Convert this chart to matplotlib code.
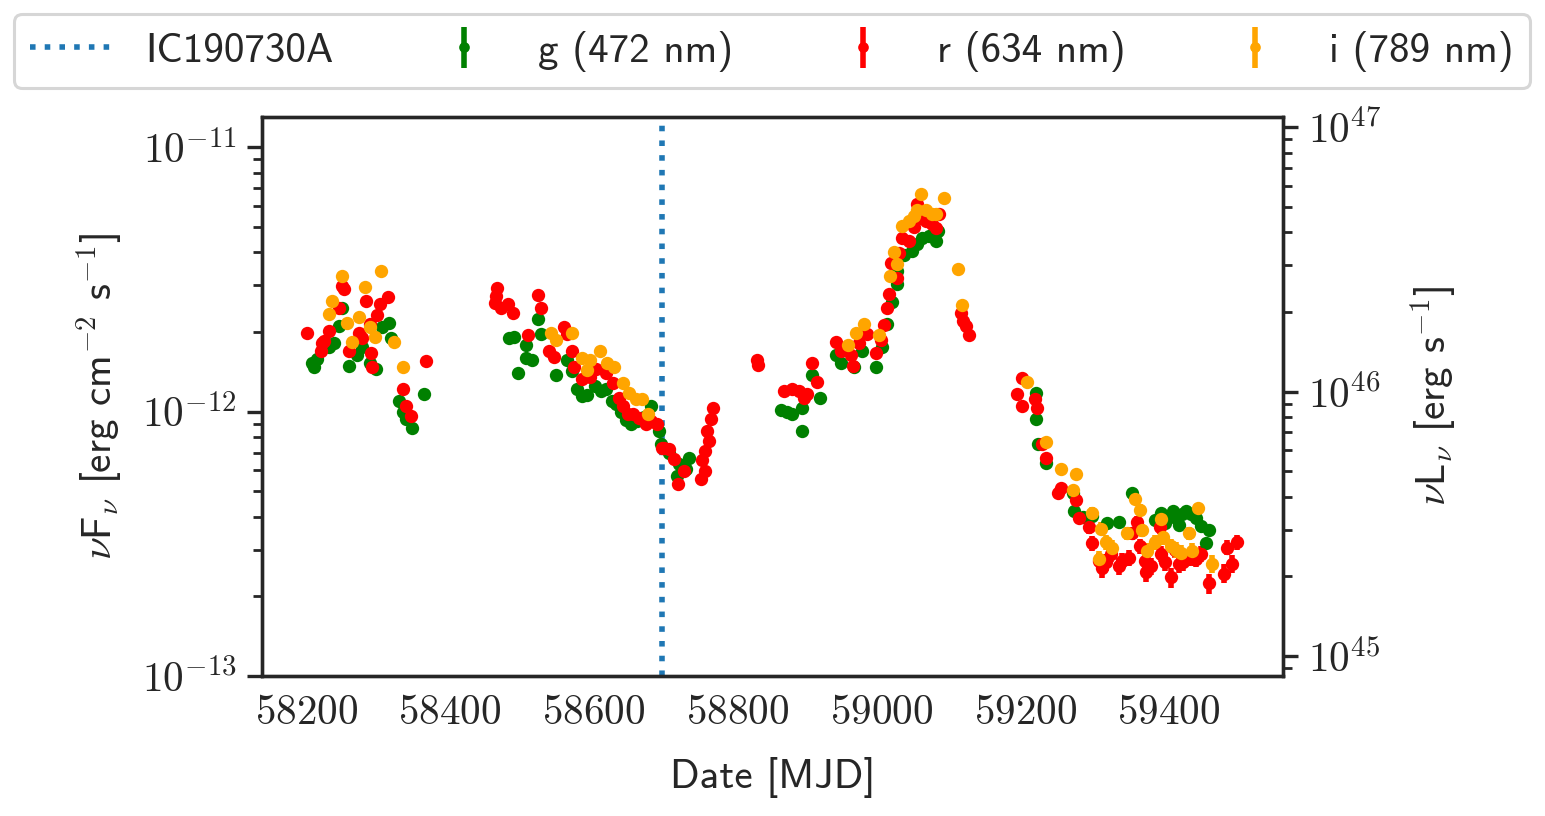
import numpy as np
import matplotlib
matplotlib.use("Agg")
import matplotlib.pyplot as plt
from matplotlib.ticker import FuncFormatter, LogLocator, FixedLocator

plt.rcParams['mathtext.fontset'] = 'cm'
plt.rcParams['font.family'] = ['cmss10', 'DejaVu Sans']
plt.rcParams['axes.unicode_minus'] = False

# ---------------- data (flux in units of 1e-12 erg cm^-2 s^-1) ----------------
neutrino_mjd = 58694.87
neutrino_label = "IC190730A"

g_mjd = [58208, 58211, 58215, 58232, 58239, 58246, 58250, 58260, 58270, 58277, 58288, 58297, 58306,
         58315, 58318, 58329, 58335, 58339, 58347, 58364,
         58482, 58489, 58495, 58506, 58506, 58514, 58523, 58527, 58548, 58562, 58570, 58576,
         58583, 58590, 58601, 58610, 58617, 58625, 58631, 58638, 58645, 58652, 58660, 58670,
         58680, 58691, 58694,
         58705, 58716, 58719, 58728, 58733,
         58861, 58868, 58875, 58889, 58890, 58904, 58914, 58937, 58944, 58962, 58973, 58993,
         59001, 59008, 59015, 59021, 59022, 59032, 59042, 59050, 59057, 59066, 59076, 59078,
         59215, 59215, 59218, 59229, 59266, 59268, 59280, 59293, 59314, 59331, 59349, 59380,
         59389, 59395, 59400, 59405, 59410, 59414, 59418, 59424, 59430, 59438, 59445, 59452,
         59456]
g_flux = [1.52, 1.47, 1.58, 1.75, 1.81, 2.11, 2.47, 1.49, 1.63, 1.75, 1.53, 1.45, 2.08,
          2.17, 1.89, 1.10, 1.00, 0.94, 0.87, 1.17,
          1.89, 1.92, 1.40, 1.78, 1.59, 1.56, 2.23, 1.97, 1.38, 1.56, 1.42, 1.22,
          1.15, 1.16, 1.25, 1.20, 1.22, 1.10, 1.07, 0.996, 0.93, 0.901, 0.92, 0.95,
          1.05, 0.847, 0.757,
          0.70, 0.573, 0.636, 0.609, 0.670,
          1.01, 1.00, 0.983, 1.035, 0.847, 1.37, 1.13, 1.63, 1.53, 1.47, 1.70, 1.47,
          1.75, 2.15, 2.60, 3.05, 3.41, 3.90, 4.06, 4.30, 4.55, 4.60, 4.43, 4.83,
          1.18, 0.941, 0.757, 0.641, 0.490, 0.422, 0.40, 0.404, 0.378, 0.381, 0.490, 0.39,
          0.412, 0.38, 0.400, 0.42, 0.397, 0.371, 0.41, 0.422, 0.410, 0.397, 0.37, 0.317,
          0.355]

r_mjd = [58201, 58221, 58222, 58224, 58232, 58246, 58250, 58252, 58260, 58274, 58277, 58283,
         58288, 58290, 58292, 58299, 58302, 58314, 58334, 58339, 58346, 58367,
         58462, 58464, 58466, 58471, 58480, 58487, 58509, 58523, 58527, 58538, 58545, 58558,
         58563, 58569, 58573, 58583, 58595, 58603, 58617, 58626, 58635, 58640, 58647, 58655,
         58663, 58673, 58680, 58688, 58695,
         58698, 58705, 58712, 58717, 58726, 58749, 58751, 58754, 58754, 58758, 58760, 58763, 58766,
         58827, 58828, 58865, 58876, 58886, 58893, 58896, 58904, 58911, 58937, 58944, 58958,
         58960, 58969, 58980, 58993, 59000, 59004, 59008, 59011, 59014, 59022, 59025, 59028,
         59039, 59045, 59050, 59053, 59062, 59070, 59076, 59080, 59111, 59114, 59118, 59122,
         59189, 59195, 59195, 59213, 59217, 59224, 59229, 59245, 59250, 59271, 59275, 59289,
         59293, 59303, 59307, 59313, 59320, 59330, 59335, 59345, 59349, 59355, 59360, 59366,
         59368, 59375, 59387, 59389, 59395, 59403, 59408, 59414, 59420, 59428, 59435, 59438,
         59445, 59456, 59477, 59480, 59488, 59495]
r_flux = [1.99, 1.70, 1.81, 1.85, 2.02, 2.47, 2.99, 2.90, 1.70, 1.99, 1.89, 2.63,
          2.15, 1.67, 1.47, 2.31, 2.56, 2.70, 1.22, 1.05, 0.966, 1.55,
          2.58, 2.74, 2.94, 2.47, 2.56, 2.35, 1.94, 2.77, 2.47, 1.70, 1.61, 2.08,
          1.97, 1.70, 1.48, 1.33, 1.35, 1.45, 1.40, 1.28, 1.13, 1.05, 0.983, 0.98,
          0.949, 0.901, 0.92, 0.901, 0.731,
          0.731, 0.72, 0.664, 0.534, 0.598, 0.558, 0.653, 0.598, 0.712, 0.847, 0.777, 0.941, 1.035,
          1.57, 1.50, 1.20, 1.22, 1.20, 1.13, 1.17, 1.52, 1.29, 1.84, 1.70, 1.63,
          1.49, 1.81, 1.97, 1.67, 1.86, 2.13, 2.47, 2.79, 3.66, 3.21, 3.99, 4.55,
          4.43, 5.00, 6.11, 5.41, 5.27, 5.10, 4.96, 5.60, 2.35, 2.20, 2.11, 1.94,
          1.17, 1.34, 1.05, 1.12, 1.03, 0.757, 0.670, 0.490, 0.512, 0.461, 0.397, 0.365,
          0.317, 0.273, 0.255, 0.27, 0.290, 0.26, 0.273, 0.28, 0.346, 0.381, 0.31, 0.273,
          0.247, 0.26, 0.365, 0.290, 0.27, 0.236, 0.30, 0.266, 0.27, 0.28, 0.281, 0.278,
          0.29, 0.224, 0.244, 0.306, 0.266, 0.320]

i_mjd = [58231, 58236, 58250, 58257, 58263, 58274, 58282, 58288, 58296, 58304, 58322, 58334,
         58541, 58548, 58570, 58583, 58591, 58594, 58608, 58619, 58628, 58640, 58649, 58659,
         58667, 58676,
         58953, 58965, 58976, 58996, 59012, 59017, 59021, 59029, 59039, 59045, 59050, 59055,
         59062, 59070, 59076, 59087, 59107, 59112,
         59202, 59229, 59250, 59266, 59271, 59293, 59303, 59306, 59313, 59321, 59341, 59352,
         59359, 59363, 59370, 59380, 59389, 59391, 59403, 59410, 59417, 59428, 59432, 59441,
         59460]
i_flux = [2.33, 2.61, 3.27, 2.17, 1.84, 2.27, 2.97, 2.08, 1.92, 3.41, 1.84, 1.47,
          1.99, 1.87, 1.99, 1.60, 1.43, 1.56, 1.69, 1.53, 1.47, 1.28, 1.18, 1.12,
          1.12, 0.983,
          1.78, 1.99, 2.15, 1.94, 3.27, 4.03, 3.60, 5.05, 5.27, 5.50, 5.80, 6.67,
          5.80, 5.60, 5.60, 6.44, 3.47, 2.54,
          1.29, 0.770, 0.609, 0.507, 0.583, 0.415, 0.278, 0.361, 0.320, 0.306, 0.346, 0.469,
          0.426, 0.355, 0.298, 0.32, 0.394, 0.334, 0.311, 0.30, 0.293, 0.346, 0.298, 0.430,
          0.266]

# typical photometric uncertainty per band (1e-12 erg cm^-2 s^-1)
g_sigma = 0.015
r_sigma = 0.02
i_sigma = 0.02

flux_unit = 1e-12
lum_factor = 8.4e57          # 4 pi d_L^2  [cm^2]
y_limits = (1e-13, 1.3e-11)
x_limits = (58138.5, 59558.5)
x_ticks = [58200, 58400, 58600, 58800, 59000, 59200, 59400]

bands = [
    ("g (472 nm)", g_mjd, g_flux, g_sigma, "green"),
    ("r (634 nm)", r_mjd, r_flux, r_sigma, "red"),
    ("i (789 nm)", i_mjd, i_flux, i_sigma, "orange"),
]

# ---------------- figure ----------------
fig = plt.figure(figsize=(7.725, 4.08), dpi=200)
ax = fig.add_axes([0.1696, 0.1716, 0.8304 - 0.1696, 0.8566 - 0.1716])

spine_col = "#262626"
fs = 14.8

vl = ax.axvline(neutrino_mjd, color="#1f77b4", ls=":", lw=2.0, label=neutrino_label, zorder=1)

handles = [vl]
for label, mjd, flux, sig, col in bands:
    f = np.array(flux) * flux_unit
    h = ax.errorbar(mjd, f, yerr=np.full(len(f), sig * flux_unit), fmt="o", color=col,
                    ms=4.8, elinewidth=2.0, capsize=0, mew=0, label=label, zorder=2)
    handles.append(h)

ax.set_yscale("log")
ax.set_ylim(*y_limits)
ax.set_xlim(*x_limits)
ax.xaxis.set_major_locator(FixedLocator(x_ticks))
ax.xaxis.set_major_formatter(FuncFormatter(lambda v, _: r"$%d$" % int(round(v))))

logfmt = FuncFormatter(lambda v, _: r"$10^{%d}$" % int(round(np.log10(v))))
ax.yaxis.set_major_locator(LogLocator(base=10, numticks=10))
ax.yaxis.set_major_formatter(logfmt)

for s in ax.spines.values():
    s.set_color(spine_col)
    s.set_linewidth(1.2)

ax.tick_params(axis="x", length=0, labelsize=fs, colors=spine_col, pad=7)
ax.tick_params(axis="y", which="major", length=5.5, width=1.2, labelsize=fs, colors=spine_col)
ax.tick_params(axis="y", which="minor", length=3.2, width=1.0, colors=spine_col)

ax.set_xlabel("Date [MJD]", fontsize=fs, color=spine_col, labelpad=9)
ax.set_ylabel(r"$\nu$F$_\nu$ [erg cm$^{\mathsf{-2}}$ s$^{\mathsf{-1}}$]", fontsize=fs,
              color=spine_col, labelpad=6)

ax2 = ax.twinx()
ax2.set_yscale("log")
ax2.set_ylim(y_limits[0] * lum_factor, y_limits[1] * lum_factor)
ax2.yaxis.set_major_locator(LogLocator(base=10, numticks=10))
ax2.yaxis.set_major_formatter(logfmt)
for s in ax2.spines.values():
    s.set_color(spine_col)
    s.set_linewidth(1.2)
ax2.tick_params(axis="y", which="major", length=5.5, width=1.2, labelsize=fs, colors=spine_col)
ax2.tick_params(axis="y", which="minor", length=3.2, width=1.0, colors=spine_col)
ax2.set_ylabel(r"$\nu$L$_\nu$ [erg s$^{\mathsf{-1}}$]", fontsize=fs, color=spine_col, labelpad=10)

leg = fig.legend(handles, [h.get_label() for h in handles], loc="lower left",
                 bbox_to_anchor=(14 / 1545, 1 - 88 / 816, (1530 - 14) / 1545, 75 / 816),
                 mode="expand", ncol=4, fontsize=fs, frameon=True, fancybox=True,
                 framealpha=1.0, borderaxespad=0.0, markerscale=0.8)
leg.get_frame().set_edgecolor("#d6d6d6")
leg.get_frame().set_linewidth(1.1)
for t in leg.get_texts():
    t.set_color(spine_col)

fig.savefig("out.png", dpi=200)
